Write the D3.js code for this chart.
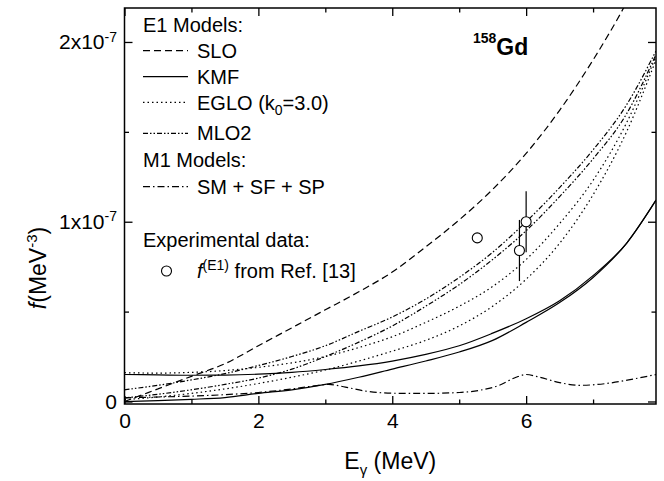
<!DOCTYPE html>
<html>
<head>
<meta charset="utf-8">
<title>158Gd photon strength functions</title>
<script src="https://cdn.jsdelivr.net/npm/d3@7/dist/d3.min.js"></script>
<style>
  body { margin: 0; background: #fff; }
  text { font-family: Arial, "Liberation Sans", sans-serif; fill: #000; }
  .curve { fill: none; stroke: #000; stroke-width: 1.2px; }
  .frame { fill: none; stroke: #000; stroke-width: 1.5px; }
  .tick line { stroke: #000; stroke-width: 1.3px; }
</style>
</head>
<body>
<svg id="chart" width="664" height="481"></svg>
<script>
// values in units of 1e-7 MeV^-3, energies in MeV
var energy = [0, 0.5, 1, 1.5, 2, 2.5, 3, 3.5, 4, 4.5, 5, 5.5, 6, 6.5, 7, 7.5, 7.94];
var slo   = [0.0, 0.07, 0.14, 0.21, 0.31, 0.41, 0.51, 0.61, 0.72, 0.86, 1.01, 1.18, 1.38, 1.62, 1.90, 2.22, 2.55];
var kmfA  = [0.15, 0.148, 0.146, 0.147, 0.152, 0.162, 0.178, 0.198, 0.225, 0.262, 0.31, 0.38, 0.46, 0.56, 0.70, 0.88, 1.12];
var kmfB  = [0.0, 0.005, 0.012, 0.022, 0.045, 0.065, 0.095, 0.135, 0.18, 0.225, 0.275, 0.34, 0.44, 0.55, 0.69, 0.88, 1.12];
var egloA = [0.16, 0.158, 0.162, 0.172, 0.19, 0.215, 0.25, 0.30, 0.36, 0.44, 0.53, 0.64, 0.79, 0.99, 1.23, 1.55, 1.92];
var egloB = [0.01, 0.025, 0.045, 0.07, 0.10, 0.135, 0.175, 0.225, 0.28, 0.34, 0.42, 0.53, 0.68, 0.88, 1.15, 1.50, 1.90];
var mlo2A = [0.065, 0.09, 0.12, 0.155, 0.20, 0.25, 0.31, 0.39, 0.47, 0.57, 0.69, 0.83, 1.0, 1.19, 1.40, 1.65, 1.95];
var mlo2B = [0.02, 0.04, 0.065, 0.095, 0.13, 0.18, 0.25, 0.33, 0.42, 0.53, 0.65, 0.79, 0.95, 1.14, 1.35, 1.60, 1.93];

var m1Energy = [0, 0.5, 1, 1.5, 2, 2.5, 2.8, 3.05, 3.3, 3.6, 4, 4.5, 5, 5.3, 5.6, 5.85, 6, 6.2, 6.5, 6.8, 7.2, 7.6, 7.94];
var m1       = [0.02, 0.025, 0.03, 0.038, 0.05, 0.07, 0.085, 0.095, 0.08, 0.058, 0.046, 0.045, 0.05, 0.062, 0.09, 0.135, 0.15, 0.135, 0.105, 0.09, 0.10, 0.125, 0.15];

var expEnergy = [5.27, 5.9, 6.0];
var expValue  = [0.91, 0.84, 1.0];
var expError  = [0, 0.17, 0.17];

var xTicks = [0, 2, 4, 6];
var xMinor = [1, 3, 5, 7];
var yTicks = [0, 1, 2];
var yMinor = [0.5, 1.5];

var svg = d3.select('#chart');
var x0 = 124.5, x1 = 656, y0 = 8, y1 = 404;

var x = d3.scaleLinear().domain([0, 7.94]).range([x0, x1]);
var y = d3.scaleLinear().domain([-0.014, 2.189]).range([y1, y0]);

svg.append('clipPath').attr('id', 'clip')
  .append('rect').attr('x', x0).attr('y', y0)
  .attr('width', x1 - x0).attr('height', y1 - y0);

// axes, ticks pointing inward
function ticks(axis, values, size) {
  return axis.tickValues(values).tickSizeInner(size).tickSizeOuter(0);
}
var gx = svg.append('g').attr('transform', 'translate(0,' + y1 + ')')
  .call(ticks(d3.axisBottom(x), xTicks, -8).tickPadding(9).tickFormat(d3.format('d')));
svg.append('g').attr('transform', 'translate(0,' + y1 + ')')
  .call(ticks(d3.axisBottom(x), xMinor, -4.5).tickFormat(''));
svg.append('g').attr('transform', 'translate(0,' + y0 + ')')
  .call(ticks(d3.axisTop(x), xTicks, -8).tickFormat(''));
svg.append('g').attr('transform', 'translate(0,' + y0 + ')')
  .call(ticks(d3.axisTop(x), xMinor, -4.5).tickFormat(''));

var gy = svg.append('g').attr('transform', 'translate(' + x0 + ',0)')
  .call(ticks(d3.axisLeft(y), yTicks, -8).tickPadding(7.5).tickFormat(''));
svg.append('g').attr('transform', 'translate(' + x0 + ',0)')
  .call(ticks(d3.axisLeft(y), yMinor, -4.5).tickFormat(''));
svg.append('g').attr('transform', 'translate(' + x1 + ',0)')
  .call(ticks(d3.axisRight(y), yTicks, -8).tickFormat(''));
svg.append('g').attr('transform', 'translate(' + x1 + ',0)')
  .call(ticks(d3.axisRight(y), yMinor, -4.5).tickFormat(''));

svg.selectAll('.domain').remove();
gx.selectAll('text').style('font-size', '21px').style('font-family', 'Arial, "Liberation Sans", sans-serif');

gy.selectAll('.tick text').each(function(d) {
  var t = d3.select(this).style('font-size', '21px').style('font-family', 'Arial, "Liberation Sans", sans-serif');
  if (d === 0) { t.text('0'); return; }
  t.append('tspan').text(d + 'x10');
  t.append('tspan').attr('dy', '-0.55em').style('font-size', '14px').text('-7');
});

svg.append('rect').attr('class', 'frame')
  .attr('x', x0).attr('y', y0).attr('width', x1 - x0).attr('height', y1 - y0);

// curves
var line = d3.line().curve(d3.curveMonotoneX);
var plot = svg.append('g').attr('clip-path', 'url(#clip)');

function draw(xs, ys, dash) {
  plot.append('path').attr('class', 'curve')
    .attr('stroke-dasharray', dash)
    .attr('d', line(xs.map(function(e, i) { return [x(e), y(ys[i])]; })));
}
draw(energy, slo, '7,4');
draw(energy, kmfA, null);
draw(energy, kmfB, null);
draw(energy, egloA, '1.5,3');
draw(energy, egloB, '1.5,3');
draw(energy, mlo2A, '5,2,1.5,2,1.5,2');
draw(energy, mlo2B, '5,2,1.5,2,1.5,2');
draw(m1Energy, m1, '7,3,1.5,3');

// experimental points
expEnergy.forEach(function(e, i) {
  if (expError[i] > 0) {
    svg.append('line').attr('stroke', '#000').attr('stroke-width', 1.2)
      .attr('x1', x(e)).attr('x2', x(e))
      .attr('y1', y(expValue[i] - expError[i])).attr('y2', y(expValue[i] + expError[i]));
  }
});
svg.selectAll('.pt').data(expEnergy).enter().append('circle')
  .attr('cx', function(d) { return x(d); })
  .attr('cy', function(d, i) { return y(expValue[i]); })
  .attr('r', 5).attr('fill', '#fff').attr('stroke', '#000').attr('stroke-width', 1.1);

// legend
var legendHeads = ['E1 Models:', 'M1 Models:', 'Experimental data:'];
var headY = [31.7, 166.7, 246.7];
var legendDash = ['7,4', null, '1.5,3', '5,2,1.5,2,1.5,2', '7,3,1.5,3'];
var legendY = [50.7, 76.7, 102.3, 133.3, 186.7];

var lg = svg.append('g').style('font-size', '20px');
legendHeads.forEach(function(h, i) {
  lg.append('text').attr('x', 143).attr('y', headY[i]).text(h);
});
legendDash.forEach(function(dsh, i) {
  lg.append('line').attr('class', 'curve')
    .attr('x1', 143).attr('x2', 188).attr('y1', legendY[i]).attr('y2', legendY[i])
    .attr('stroke-dasharray', dsh);
});
lg.append('text').attr('x', 197).attr('y', 57.5).text('SLO');
lg.append('text').attr('x', 197).attr('y', 84).text('KMF');
var eg = lg.append('text').attr('x', 197).attr('y', 110);
eg.append('tspan').text('EGLO (k');
eg.append('tspan').attr('dy', 5).style('font-size', '14px').text('0');
eg.append('tspan').attr('dy', -5).text('=3.0)');
lg.append('text').attr('x', 197).attr('y', 140).text('MLO2');
lg.append('text').attr('x', 197).attr('y', 193.5).text('SM + SF + SP');

lg.append('circle').attr('cx', 166.5).attr('cy', 271).attr('r', 5)
  .attr('fill', '#fff').attr('stroke', '#000').attr('stroke-width', 1.1);
var ft = lg.append('text').attr('x', 197).attr('y', 278);
ft.append('tspan').style('font-style', 'italic').text('f');
ft.append('tspan').attr('dy', -8).style('font-size', '14px').text('(E1)');
ft.append('tspan').attr('dy', 8).text(' from Ref. [13]');

// nucleus label
var nuc = svg.append('text').attr('x', 473).attr('y', 55).style('font-weight', 'bold');
nuc.append('tspan').attr('dy', -12).style('font-size', '14px').text('158');
nuc.append('tspan').attr('dy', 12).style('font-size', '23px').text('Gd');

// axis titles
var xt = svg.append('text').attr('x', (x0 + x1) / 2).attr('y', 469)
  .attr('text-anchor', 'middle').style('font-size', '23px');
xt.append('tspan').text('E');
xt.append('tspan').attr('dy', 6).style('font-size', '15px').text('γ');
xt.append('tspan').attr('dy', -6).text(' (MeV)');

var yt = svg.append('text')
  .attr('transform', 'translate(46,' + 268 + ') rotate(-90)')
  .attr('text-anchor', 'middle').style('font-size', '23px');
yt.append('tspan').style('font-style', 'italic').text('f');
yt.append('tspan').text('(MeV');
yt.append('tspan').attr('dy', -9).style('font-size', '15px').text('-3');
yt.append('tspan').attr('dy', 9).text(')');
</script>
</body>
</html>
